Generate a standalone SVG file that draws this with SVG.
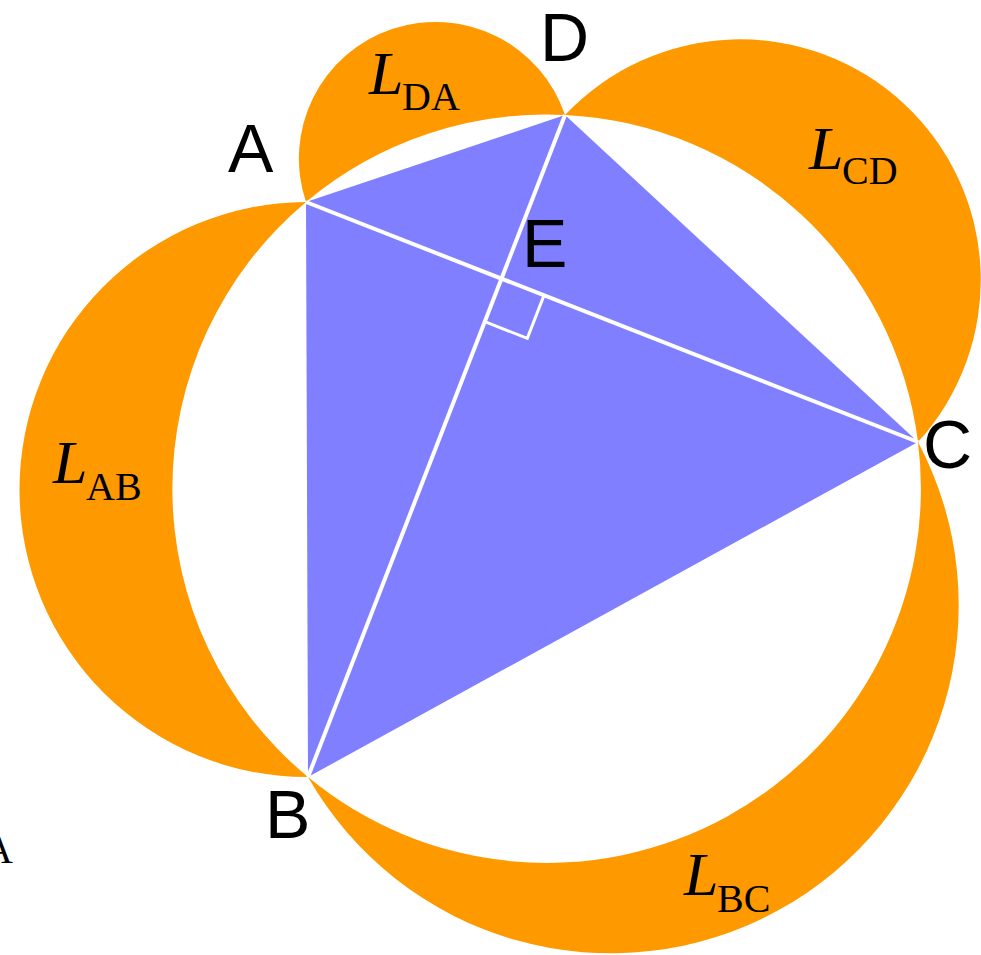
<svg xmlns="http://www.w3.org/2000/svg" width="981" height="955" viewBox="0 0 981 955">
<style>
.lune{fill:#ff9900;stroke:none}
.quad{fill:#7f7fff;stroke:none}
.diag{stroke:#ffffff;stroke-width:4;fill:none}
.mark{stroke:#ffffff;stroke-width:3;fill:none}
.pt{font-family:"Liberation Sans",Arial,sans-serif;font-size:68px;fill:#000}
.L{font-family:"Liberation Serif","Times New Roman",serif;font-style:italic;font-size:62px;fill:#000}
.sub{font-family:"Liberation Serif","Times New Roman",serif;font-size:40px;fill:#000}
</style>
<rect width="981" height="955" fill="#ffffff"/>
<g id="lune-DA"><path class="lune" d="M306 202 A136.6 136.6 0 0 1 565 115 A374.3 374.3 0 0 0 306 202 Z"/></g>
<g id="lune-CD"><path class="lune" d="M565 115 A240.6 240.6 0 0 1 918 442 A374.3 374.3 0 0 0 565 115 Z"/></g>
<g id="lune-BC"><path class="lune" d="M918 442 A348 348 0 0 1 308 777 A374.3 374.3 0 0 0 918 442 Z"/></g>
<g id="lune-AB"><path class="lune" d="M308 777 A287.5 287.5 0 0 1 306 202 A374.3 374.3 0 0 0 308 777 Z"/></g>
<g id="quadrilateral"><polygon class="quad" points="306,202 565,115 918,442 308,777"/></g>
<g id="connectors">
<line class="diag" x1="306" y1="202" x2="918" y2="442"/>
<line class="diag" x1="565" y1="115" x2="308" y2="777"/>
<polyline class="mark" points="543.6,296.4 527.3,338.3 485.4,321.9"/>
</g>
<g id="label-A"><text class="pt" x="228" y="172">A</text></g>
<g id="label-D"><text class="pt" x="540" y="61">D</text></g>
<g id="label-E"><text class="pt" x="522" y="267">E</text></g>
<g id="label-C"><text class="pt" x="923" y="468">C</text></g>
<g id="label-B"><text class="pt" x="265" y="838">B</text></g>
<g id="label-LDA"><text class="L" x="369" y="94">L</text><text class="sub" x="402" y="110">DA</text></g>
<g id="label-LCD"><text class="L" x="809" y="169">L</text><text class="sub" x="842" y="184">CD</text></g>
<g id="label-LAB"><text class="L" x="53" y="483">L</text><text class="sub" x="86" y="500">AB</text></g>
<g id="label-LBC"><text class="L" x="684" y="895">L</text><text class="sub" x="717" y="912">BC</text></g>
<text class="sub" x="-16" y="863">A</text>
</svg>
